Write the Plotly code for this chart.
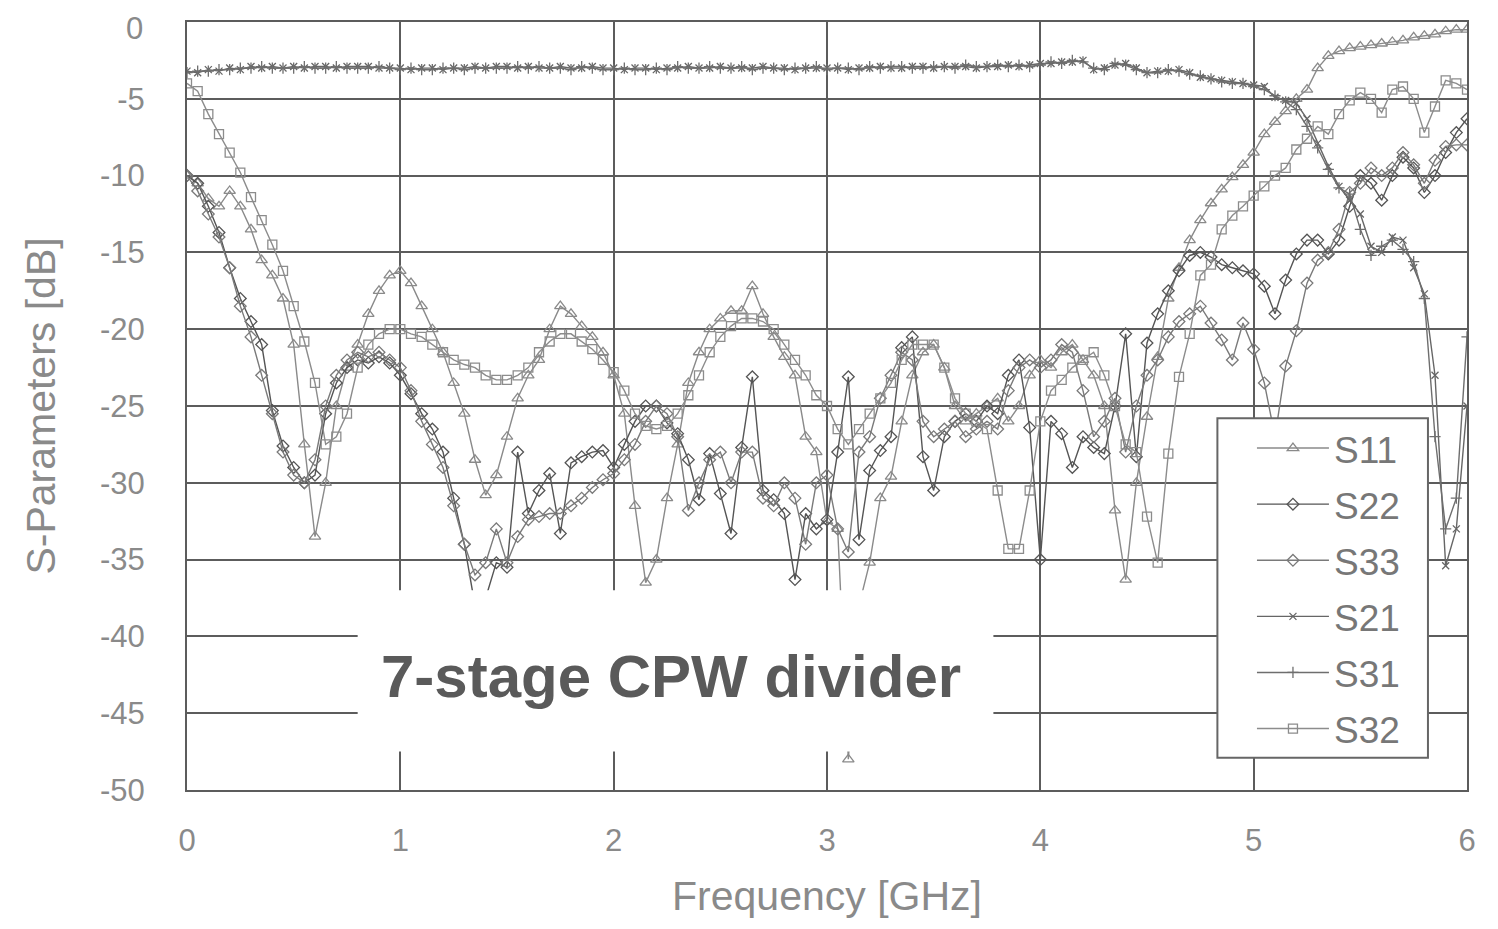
import plotly.graph_objects as go

# Frequency grid (GHz)
freq = [round(i * 0.05, 2) for i in range(121)]

s11 = [-10.0, -10.5, -11.5, -12.0, -11.0, -12.0, -13.5, -15.5, -16.5, -18.0,
       -21.0, -27.5, -33.5, -30.0, -25.0, -22.5, -21.0, -19.0, -17.5, -16.5,
       -16.2, -17.0, -18.5, -20.0, -21.5, -23.5, -25.5, -28.5, -30.8, -29.5,
       -27.0, -24.5, -23.0, -22.0, -20.0, -18.5, -19.0, -19.8, -20.5, -21.5,
       -23.0, -25.5, -31.5, -36.5, -35.0, -31.0, -27.5, -23.5, -21.5, -20.0,
       -19.3, -18.8, -18.8, -17.2, -19.0, -20.5, -21.8, -23.0, -27.0, -28.0,
       -32.5, -33.0, -48.0, -38.0, -35.2, -31.0, -29.6, -26.0, -23.0, -21.5,
       -21.0, -22.5, -25.0, -26.0, -25.5, -25.0, -24.5, -26.0, -25.0, -23.0,
       -22.0, -22.5, -21.5, -21.0, -22.0, -23.0, -25.0, -31.8, -36.3, -30.0,
       -25.7, -21.8, -18.0, -16.0, -14.2, -12.9, -11.8, -10.9, -10.1, -9.3,
       -8.5, -7.3, -6.5, -5.8, -5.0, -4.4, -3.0, -2.2, -1.9, -1.7,
       -1.6, -1.5, -1.4, -1.3, -1.2, -1.0, -0.9, -0.8, -0.6, -0.5, -0.5]

s22 = [-10.0, -10.5, -12.0, -13.7, -16.0, -18.0, -19.5, -21.0, -25.3, -27.6,
       -29.0, -30.0, -29.5, -25.5, -23.5, -22.5, -22.0, -22.2, -21.8, -22.2,
       -23.0, -24.2, -25.5, -26.5, -28.0, -31.0, -34.0, -38.0, -37.5, -35.2,
       -35.5, -28.0, -32.0, -30.5, -29.4, -33.3, -28.7, -28.3, -28.0, -27.9,
       -29.0, -27.5, -26.0, -25.0, -25.0, -26.1, -26.8, -28.5, -31.1, -28.1,
       -30.7, -33.3, -27.7, -23.1, -30.5, -31.1, -32.0, -36.3, -32.0, -33.0,
       -32.4, -28.0, -23.1, -33.7, -29.2, -27.9, -27.0, -21.2, -20.5, -28.3,
       -30.5, -27.0, -26.0, -25.5, -26.0, -25.0, -25.5, -23.0, -22.0, -26.4,
       -35.0, -26.0, -26.8, -29.0, -27.0, -27.7, -28.1, -25.0, -20.3, -28.3,
       -20.9, -19.0, -17.5, -16.2, -15.2, -15.0, -15.3, -15.8, -16.0, -16.2,
       -16.4, -17.2, -19.0, -16.8, -15.1, -14.2, -14.2, -15.1, -14.2, -12.0,
       -10.0, -10.5, -11.6, -10.0, -8.8, -9.5, -11.1, -10.0, -8.5, -7.2, -6.3]

s33 = [-10.0, -11.0, -12.5, -14.0, -16.0, -18.5, -20.5, -23.0, -25.5, -28.0,
       -29.5, -30.0, -28.5, -25.0, -23.0, -22.0, -21.5, -21.8, -21.5, -22.0,
       -22.5, -24.0, -26.0, -27.5, -29.0, -31.5, -34.0, -36.0, -35.2, -33.0,
       -35.2, -33.5, -32.4, -32.2, -32.0, -32.0, -31.5, -31.0, -30.3, -29.8,
       -29.4, -28.5, -27.5, -26.0, -25.0, -25.5, -27.0, -31.8, -30.0, -28.5,
       -28.0, -30.0, -28.0, -28.0, -31.0, -31.5, -30.0, -31.0, -34.0, -30.0,
       -29.5, -33.0, -34.5, -28.0, -27.0, -24.5, -23.0, -21.5, -22.0, -26.0,
       -27.0, -26.5, -26.0, -27.0, -26.5, -26.0, -26.5, -24.0, -22.5, -22.0,
       -22.5, -22.0, -21.0, -21.5, -24.0, -27.0, -26.0, -24.5, -28.0, -25.0,
       -23.0, -22.0, -20.5, -19.5, -19.0, -18.5, -19.6, -20.7, -22.0, -19.6,
       -21.3, -23.5, -27.0, -22.4, -20.1, -17.0, -15.5, -15.0, -13.5, -11.1,
       -10.5, -9.5, -10.0, -9.5, -8.5, -9.3, -10.5, -9.0, -8.1, -8.0, -8.0]

s21 = [-3.2, -3.3, -3.1, -3.2, -3.0, -3.1, -2.9, -3.0, -2.9, -3.0,
       -2.9, -3.0, -2.9, -2.9, -3.0, -2.9, -2.9, -2.9, -3.0, -3.0,
       -3.0, -3.1, -3.0, -3.0, -3.1, -3.0, -3.0, -2.9, -3.0, -2.9,
       -2.9, -3.0, -2.9, -3.0, -3.0, -2.9, -3.0, -3.0, -2.9, -3.0,
       -3.0, -3.1, -3.0, -3.0, -3.1, -3.0, -3.0, -2.9, -3.0, -3.0,
       -2.9, -3.0, -3.0, -3.0, -2.9, -3.0, -3.0, -3.1, -3.0, -3.0,
       -3.0, -3.0, -3.1, -3.0, -3.0, -2.9, -3.0, -3.0, -2.9, -2.9,
       -3.0, -2.9, -2.9, -2.9, -3.0, -2.9, -2.9, -2.8, -2.9, -2.8,
       -2.7, -2.7, -2.6, -2.6, -2.5, -3.1, -3.0, -2.8, -2.7, -3.0,
       -3.3, -3.2, -3.2, -3.1, -3.3, -3.6, -3.7, -3.8, -3.9, -4.0,
       -4.1, -4.2, -4.9, -5.1, -5.3, -6.3, -7.9, -9.4, -10.7, -11.6,
       -12.5, -14.6, -15.0, -14.0, -14.2, -16.0, -17.7, -23.0, -35.4, -33.0, -25.0]

s31 = [-3.3, -3.2, -3.2, -3.1, -3.1, -3.0, -3.0, -2.9, -3.0, -3.0,
       -3.0, -2.9, -3.0, -3.0, -2.9, -3.0, -3.0, -3.0, -2.9, -3.0,
       -3.1, -3.0, -3.1, -3.1, -3.0, -3.0, -3.1, -3.0, -3.0, -3.0,
       -3.0, -2.9, -3.0, -2.9, -3.0, -3.0, -3.1, -2.9, -3.0, -3.1,
       -3.1, -3.0, -3.1, -3.1, -3.0, -3.1, -2.9, -3.0, -3.0, -2.9,
       -3.0, -3.0, -2.9, -3.1, -3.0, -3.0, -3.1, -3.0, -3.0, -2.9,
       -3.1, -3.0, -3.0, -3.1, -2.9, -3.0, -2.9, -2.9, -3.0, -3.0,
       -2.9, -2.9, -3.0, -2.8, -2.9, -2.9, -2.8, -2.9, -2.8, -2.9,
       -2.8, -2.6, -2.7, -2.5, -2.6, -3.0, -3.1, -2.7, -2.8, -3.1,
       -3.3, -3.3, -3.1, -3.2, -3.4, -3.5, -3.7, -3.9, -4.0, -4.0,
       -4.2, -4.4, -4.8, -5.2, -5.7, -6.8, -8.2, -9.6, -10.8, -11.2,
       -13.5, -15.2, -14.6, -14.2, -14.8, -15.6, -18.0, -27.0, -33.0, -31.0, -20.5]

s32 = [-4.0, -4.5, -6.0, -7.3, -8.5, -9.8, -11.4, -12.9, -14.5, -16.2,
       -18.5, -20.8, -23.5, -27.5, -27.0, -25.5, -22.5, -21.0, -20.3, -20.0,
       -20.0, -20.3, -20.5, -21.0, -21.5, -22.0, -22.3, -22.5, -23.0, -23.3,
       -23.3, -23.0, -22.5, -21.5, -20.8, -20.3, -20.3, -20.8, -21.3, -22.0,
       -22.8, -24.0, -25.5, -26.3, -26.5, -26.3, -25.5, -24.3, -23.0, -21.5,
       -20.5, -19.8, -19.3, -19.3, -19.5, -20.0, -21.0, -22.0, -23.0, -24.3,
       -25.0, -26.5, -27.5, -26.5, -25.5, -24.5, -23.5, -22.0, -21.0, -21.0,
       -21.0, -22.5, -24.5, -25.5, -26.0, -26.5, -30.5, -34.3, -34.3, -30.5,
       -26.0, -24.0, -23.3, -22.5, -22.0, -21.5, -23.0, -25.0, -27.5, -28.0,
       -32.2, -35.2, -28.1, -23.1, -20.3, -16.5, -15.8, -13.5, -12.6, -12.0,
       -11.3, -10.7, -10.0, -9.5, -8.3, -7.6, -6.8, -7.3, -6.0, -5.1,
       -4.6, -5.0, -5.9, -4.4, -4.2, -5.0, -7.2, -5.5, -3.8, -4.0, -4.4]

series_names = ["S11", "S22", "S33", "S21", "S31", "S32"]
series_vals = [s11, s22, s33, s21, s31, s32]
symbols = ["triangle-up-open", "diamond-open", "diamond-open",
           "x-thin-open", "cross-thin-open", "square-open"]
line_colors = ["#8a8a8a", "#555555", "#7a7a7a", "#666666", "#6e6e6e", "#8c8c8c"]
marker_sizes = [10, 9, 9, 7, 8, 9]

x_ticks = [0, 1, 2, 3, 4, 5, 6]
x_ticktext = ["0", "1", "2", "3", "4", "5", "6"]
# the top "0" label is drawn as an annotation (nudged down like the original)
y_ticks = [0, -5, -10, -15, -20, -25, -30, -35, -40, -45, -50]
y_ticktext = ["", "-5", "-10", "-15", "-20", "-25", "-30", "-35", "-40", "-45", "-50"]
top_label = "0"

fig = go.Figure()
for name, vals, sym, col, ms in zip(series_names, series_vals, symbols, line_colors, marker_sizes):
    fig.add_trace(go.Scatter(
        x=freq, y=vals, name=name, mode="lines+markers",
        legendgroup=name,
        line=dict(color=col, width=1.4),
        marker=dict(symbol=sym, size=ms, color=col, line=dict(color=col, width=1.3)),
    ))

grid_col = "#5c5c5c"
font_fam = "Liberation Sans, Arial, sans-serif"
tick_font = dict(family=font_fam, size=31, color="#8a8a8a")

fig.update_layout(
    width=1498, height=929,
    margin=dict(l=179, r=39, t=14, b=147),
    paper_bgcolor="white", plot_bgcolor="white",
    showlegend=True,
    legend=dict(
        x=0.832, y=0.485, xanchor="left", yanchor="top",
        bgcolor="rgba(0,0,0,0)", borderwidth=0,
        font=dict(family=font_fam, size=37, color="#777777"),
        itemwidth=72, tracegroupgap=5,
    ),
    xaxis=dict(
        range=[0, 6], tickvals=x_ticks, ticktext=x_ticktext, automargin=False,
        showgrid=True, gridcolor=grid_col, gridwidth=2,
        showline=True, linecolor=grid_col, linewidth=2, mirror=True,
        ticks="outside", ticklen=22, tickcolor="rgba(0,0,0,0)",
        tickfont=tick_font, zeroline=False,
        title=dict(text="Frequency [GHz]", standoff=24,
                   font=dict(family=font_fam, size=41, color="#8a8a8a")),
    ),
    yaxis=dict(
        range=[-50, 0], tickvals=y_ticks, ticktext=y_ticktext, automargin=False,
        showgrid=True, gridcolor=grid_col, gridwidth=2,
        showline=True, linecolor=grid_col, linewidth=2, mirror=True,
        ticks="outside", ticklen=34, tickcolor="rgba(0,0,0,0)",
        tickfont=tick_font, zeroline=False,
        title=dict(text="S-Parameters [dB]", standoff=32,
                   font=dict(family=font_fam, size=41, color="#8a8a8a")),
    ),
    shapes=[
        dict(type="rect", xref="x", yref="y", x0=0.8, x1=3.78, y0=-47.5, y1=-37,
             fillcolor="white", line=dict(width=0), layer="above"),
        dict(type="rect", xref="paper", yref="paper", x0=0.805, x1=0.9695, y0=0.042, y1=0.484,
             fillcolor="white", line=dict(color="#666666", width=2), layer="above"),
    ],
    annotations=[
        dict(text="<b>7-stage CPW divider</b>", x=2.27, y=-42.6, xref="x", yref="y",
             showarrow=False,
             font=dict(family=font_fam, size=60, color="#5a5a5a")),
        dict(text=top_label, x=-0.033, y=y_ticks[0], xref="paper", yref="y",
             xanchor="right", yanchor="middle", yshift=-6, showarrow=False,
             font=tick_font),
    ],
)

fig.write_html("out.html")
